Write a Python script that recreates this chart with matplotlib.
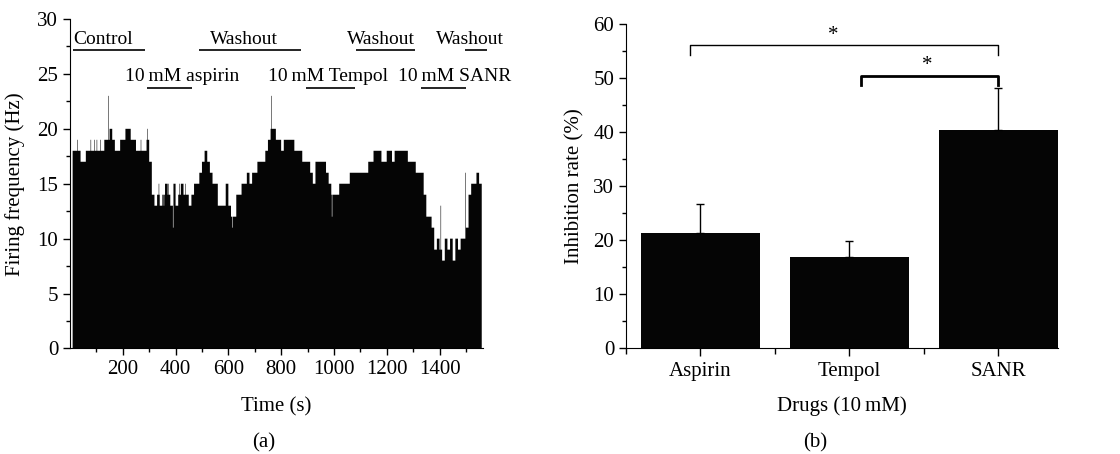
import numpy as np
import matplotlib
matplotlib.use("Agg")
import matplotlib.pyplot as plt
from matplotlib.ticker import MultipleLocator, FixedLocator

plt.rcParams['font.family'] = ['Liberation Serif', 'DejaVu Serif']
plt.rcParams['font.size'] = 15

# ---- panel (a): firing rate histogram, 10 s bins starting at t = 10 s
bin_start = 10
bin_width = 10
rate = [18, 18, 18, 17, 17, 18, 18, 18, 18, 18, 18, 18, 19, 19, 20, 19, 18, 18, 19, 19,
        20, 20, 19, 19, 18, 18, 18, 18, 19, 17,
        14, 13, 14, 13, 14, 15, 14, 13, 15, 13, 14, 15, 14, 14, 13, 14, 15, 15, 16, 17,
        18, 17, 16, 15, 15, 13, 13, 13, 15, 13,
        12, 12, 14, 14, 15, 15, 16, 15, 16, 16, 17, 17, 17, 18, 19, 20, 20, 19, 19, 18,
        19, 19, 19, 19, 18, 18, 18, 17, 17, 17,
        16, 15, 17, 17, 17, 17, 16, 15, 14, 14, 14, 15, 15, 15, 15, 16, 16, 16, 16, 16,
        16, 16, 17, 17, 18, 18, 18, 17, 17, 18,
        18, 17, 18, 18, 18, 18, 18, 17, 17, 17, 16, 16, 16, 14, 12, 12, 11, 9, 10, 9,
        8, 10, 9, 10, 8, 10, 9, 10, 10, 11,
        14, 15, 15, 16, 15]
# narrow 2 s spikes / dips on top of the binned rate
spike_t = [27, 78, 92, 101, 115, 145, 268, 292, 336, 355, 372, 390, 413, 436,
           615, 762, 927, 992, 1404, 1498]
spike_v = [19, 19, 19, 19, 19, 23, 19, 20, 15, 13, 15, 11, 15, 15,
           11, 23, 15, 12, 13, 16]

# periods: label, underline start, underline end, text x, row (0 top, 1 lower)
periods = [("Control", 10, 284, 12, 0),
           ("10\u2009mM aspirin", 290, 464, 208, 1),
           ("Washout", 488, 874, 531, 0),
           ("10\u2009mM Tempol", 893, 1078, 752, 1),
           ("Washout", 1084, 1308, 1050, 0),
           ("10\u2009mM SANR", 1328, 1501, 1242, 1),
           ("Washout", 1498, 1579, 1385, 0)]

# ---- panel (b): inhibition rate
drugs = ["Aspirin", "Tempol", "SANR"]
inhibition = [21.4, 17.0, 40.4]
inhibition_err = [5.4, 2.8, 7.8]

fig = plt.figure(figsize=(11.2, 4.54), dpi=100)
ax1 = fig.add_axes([0.0625, 0.2324, 0.3688, 0.7258])
ax2 = fig.add_axes([0.5589, 0.2328, 0.3857, 0.7137])

# histogram at 1 s resolution
counts = np.repeat(np.array(rate, dtype=float), bin_width)
for t, v in zip(spike_t, spike_v):
    i = t - bin_start
    counts[i:i + 2] = v
edges = np.arange(len(counts) + 1) + bin_start
ax1.stairs(counts, edges, fill=True, color='#050505', linewidth=0)

ax1.set_xlim(0, 1565)
ax1.set_ylim(0, 30)
ax1.xaxis.set_major_locator(FixedLocator([200, 400, 600, 800, 1000, 1200, 1400]))
ax1.xaxis.set_minor_locator(FixedLocator([100, 300, 500, 700, 900, 1100, 1300, 1500]))
ax1.yaxis.set_major_locator(MultipleLocator(5))
ax1.yaxis.set_minor_locator(MultipleLocator(2.5))
ax1.set_xlabel("Time (s)", labelpad=13)
ax1.set_ylabel("Firing frequency (Hz)", labelpad=9)

rows_text = [28.1, 24.8]
rows_line = [27.2, 23.7]
for label, t0, t1, tx, row in periods:
    ax1.plot([t0, t1], [rows_line[row], rows_line[row]], color='black', lw=1.2,
             clip_on=False, solid_capstyle='butt')
    ax1.text(tx, rows_text[row], label, ha='left', va='center', fontsize=14, clip_on=False)

# bars
xpos = np.arange(1, len(drugs) + 1)
ax2.bar(xpos, inhibition, width=0.8, color='#050505', zorder=2)
ax2.errorbar(xpos, inhibition, yerr=[np.zeros(len(drugs)), inhibition_err], fmt='none',
             ecolor='black', elinewidth=1, capsize=3, capthick=1, zorder=3)
ax2.set_xlim(0.5, 3.4)
ax2.set_ylim(0, 60)
ax2.set_xticks(xpos)
ax2.set_xticklabels(drugs)
ax2.xaxis.set_minor_locator(FixedLocator([0.5, 1.5, 2.5]))
ax2.yaxis.set_major_locator(MultipleLocator(10))
ax2.yaxis.set_minor_locator(MultipleLocator(5))
ax2.set_xlabel("Drugs (10\u2009mM)", labelpad=11)
ax2.set_ylabel("Inhibition rate (%)", labelpad=6)

# significance brackets
ax2.plot([0.93, 0.93, 3.0, 3.0], [54.4, 56.2, 56.2, 54.4], color='black', lw=1, clip_on=False)
ax2.text(1.89, 58.0, "*", ha='center', va='center')
ax2.plot([2.08, 2.08, 3.0, 3.0], [48.7, 50.4, 50.4, 48.7], color='black', lw=2, clip_on=False)
ax2.text(2.52, 52.3, "*", ha='center', va='center')

for ax in (ax1, ax2):
    ax.spines['top'].set_visible(False)
    ax.spines['right'].set_visible(False)
    ax.tick_params(which='major', direction='out', length=5, width=1)
    ax.tick_params(which='minor', direction='out', length=3, width=1)
ax2.tick_params(axis='x', which='major', length=6)
ax2.tick_params(axis='x', which='minor', length=4)

fig.text(0.235, 0.024, "(a)", ha='center', va='center')
fig.text(0.728, 0.024, "(b)", ha='center', va='center')

fig.savefig("out.png", dpi=100)
